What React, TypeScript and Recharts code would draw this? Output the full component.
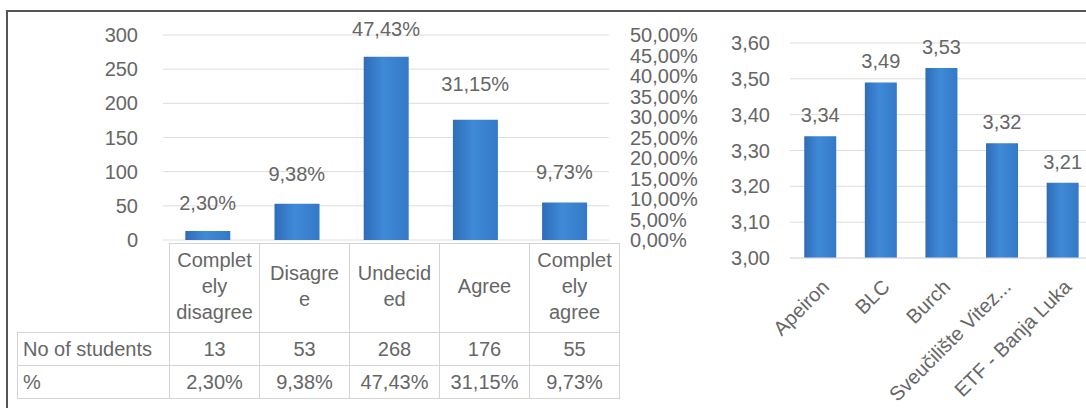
import {
  ComposedChart,
  BarChart,
  Bar,
  Line,
  XAxis,
  YAxis,
  CartesianGrid,
  LabelList,
} from "recharts";

// left chart: answers of students
const answerNames = ["Completely disagree", "Disagree", "Undecided", "Agree", "Completely agree"];
const answerLines = [
  ["Complet", "ely", "disagree"],
  ["Disagre", "e"],
  ["Undecid", "ed"],
  ["Agree"],
  ["Complet", "ely", "agree"],
];
const studentCounts = [13, 53, 268, 176, 55];
const studentShares = [2.3, 9.38, 47.43, 31.15, 9.73];
const countTicks = [0, 50, 100, 150, 200, 250, 300];
const shareTicks = [0, 5, 10, 15, 20, 25, 30, 35, 40, 45, 50];

// right chart: average score per university
const universities = ["Apeiron", "BLC", "Burch", "Sveučilište Vitez...", "ETF - Banja Luka"];
const avgScores = [3.34, 3.49, 3.53, 3.32, 3.21];
const scoreTicks = [3.0, 3.1, 3.2, 3.3, 3.4, 3.5, 3.6];

const FONT = '"Liberation Sans", Arial, sans-serif';
const TEXT = "#666666";
const GRID = "#e0dcdc";
const BORDER = "#d4d4d4";

const comma = (v: number, d: number) => v.toFixed(d).replace(".", ",");
const pct = (v: number) => `${comma(v, 2)}%`;

function BarGradient({ id }: { id: string }) {
  return (
    <defs>
      <linearGradient id={id} x1="0" y1="0" x2="1" y2="0">
        <stop offset="0%" stopColor="#2f6cb8" />
        <stop offset="45%" stopColor="#3f8ad8" />
        <stop offset="100%" stopColor="#3479c6" />
      </linearGradient>
    </defs>
  );
}

// share labels sit above the (invisible) line points, kept inside the top of the plot
const ShareLabel = (props: any) => {
  const vb = props.viewBox || {};
  const x = (vb.x ?? props.x) + (vb.width ?? 0) / 2;
  const y = vb.y ?? props.y;
  return (
    <text x={x} y={Math.max(y - 21, 36)} textAnchor="middle" fill={TEXT} fontSize={20}>
      {pct(Number(props.value))}
    </text>
  );
};

function AnswerTable() {
  const cell: React.CSSProperties = {
    border: `1px solid ${BORDER}`,
    textAlign: "center",
    padding: 0,
    width: 89,
  };
  return (
    <table
      style={{
        position: "absolute",
        left: 17,
        top: 243,
        borderCollapse: "collapse",
        tableLayout: "fixed",
        fontFamily: FONT,
        fontSize: 20,
        color: TEXT,
      }}
    >
      <tbody>
        <tr style={{ height: 89 }}>
          <td style={{ width: 146, padding: 0 }} />
          {answerLines.map((lines, i) => (
            <td key={i} style={{ ...cell, lineHeight: "26px", paddingBottom: 4 }}>
              {lines.map((l, j) => (
                <div key={j}>{l}</div>
              ))}
            </td>
          ))}
        </tr>
        <tr style={{ height: 33 }}>
          <td style={{ ...cell, width: 146, textAlign: "left", paddingLeft: 5 }}>No of students</td>
          {studentCounts.map((v, i) => (
            <td key={i} style={cell}>
              {v}
            </td>
          ))}
        </tr>
        <tr style={{ height: 33 }}>
          <td style={{ ...cell, width: 146, textAlign: "left", paddingLeft: 5 }}>%</td>
          {studentShares.map((v, i) => (
            <td key={i} style={cell}>
              {pct(v)}
            </td>
          ))}
        </tr>
      </tbody>
    </table>
  );
}

export default function App() {
  const answerData = answerNames.map((name, i) => ({
    name,
    count: studentCounts[i],
    share: studentShares[i],
  }));
  const scoreData = universities.map((name, i) => ({ name, score: avgScores[i] }));
  const tick = { fill: TEXT, fontSize: 20 };

  return (
    <div
      style={{
        position: "absolute",
        left: 0,
        top: 0,
        width: 1086,
        height: 408,
        overflow: "hidden",
        background: "#fff",
        fontFamily: FONT,
      }}
    >
      <div
        style={{
          position: "absolute",
          left: 6,
          top: 10,
          right: -4,
          bottom: -4,
          borderTop: "2px solid #555",
          borderLeft: "2px solid #555",
        }}
      />

      <AnswerTable />

      <div style={{ position: "absolute", left: 0, top: 0 }}>
        <ComposedChart
          width={720}
          height={265}
          data={answerData}
          margin={{ top: 35, right: 0, bottom: 25, left: 0 }}
          barCategoryGap="25%"
        >
          <BarGradient id="gradLeft" />
          <CartesianGrid vertical={false} stroke={GRID} yAxisId="count" />
          <XAxis dataKey="name" hide />
          <YAxis
            yAxisId="count"
            width={163}
            domain={[0, 300]}
            ticks={countTicks}
            interval={0}
            tick={tick}
            axisLine={false}
            tickLine={false}
            tickSize={0}
            tickMargin={25}
          />
          <YAxis
            yAxisId="share"
            orientation="right"
            width={111}
            domain={[0, 50]}
            ticks={shareTicks}
            tickFormatter={pct}
            tick={tick}
            axisLine={false}
            tickLine={false}
            tickSize={0}
            tickMargin={21}
            interval={0}
          />
          <Bar yAxisId="count" dataKey="count" fill="url(#gradLeft)" isAnimationActive={false} />
          <Line
            yAxisId="share"
            dataKey="share"
            stroke="none"
            dot={false}
            activeDot={false}
            isAnimationActive={false}
          >
            <LabelList dataKey="share" content={ShareLabel} />
          </Line>
        </ComposedChart>
      </div>

      <div style={{ position: "absolute", left: 690, top: 0 }}>
        <BarChart
          width={410}
          height={408}
          data={scoreData}
          margin={{ top: 43, right: 7, bottom: 10, left: 0 }}
          barCategoryGap="23.5%"
        >
          <BarGradient id="gradRight" />
          <CartesianGrid vertical={false} stroke={GRID} />
          <XAxis
            dataKey="name"
            height={140}
            interval={0}
            angle={-45}
            textAnchor="end"
            tick={tick}
            axisLine={{ stroke: GRID }}
            tickLine={false}
            tickSize={0}
            tickMargin={20}
          />
          <YAxis
            width={100}
            domain={[3, 3.6]}
            ticks={scoreTicks}
            interval={0}
            tickFormatter={(v: number) => comma(v, 2)}
            tick={tick}
            axisLine={false}
            tickLine={false}
            tickSize={0}
            tickMargin={20}
          />
          <Bar dataKey="score" fill="url(#gradRight)" isAnimationActive={false}>
            <LabelList
              dataKey="score"
              position="top"
              offset={14}
              formatter={(v: any) => comma(Number(v), 2)}
              style={{ fill: TEXT, fontSize: 20 }}
            />
          </Bar>
        </BarChart>
      </div>
    </div>
  );
}
